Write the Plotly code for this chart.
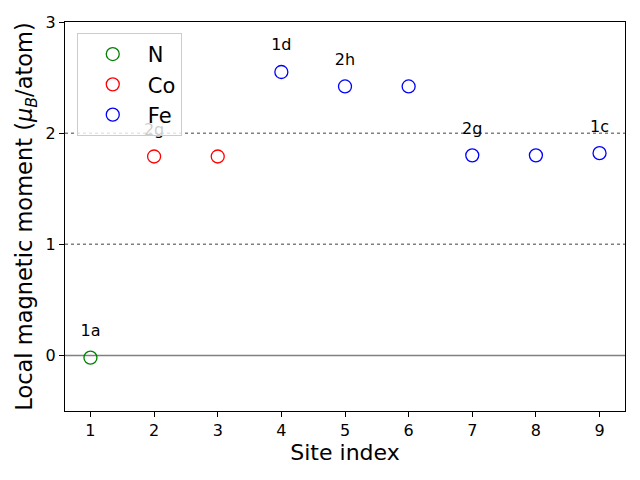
import plotly.graph_objects as go

sites_N = [1]
mom_N = [-0.02]
sites_Co = [2, 3]
mom_Co = [1.79, 1.79]
sites_Fe = [4, 5, 6, 7, 8, 9]
mom_Fe = [2.55, 2.42, 2.42, 1.80, 1.80, 1.82]

label_x = [1, 2, 4, 5, 7, 9]
label_y = [-0.02, 1.79, 2.55, 2.42, 1.80, 1.82]
label_text = ["1a", "2g", "1d", "2h", "2g", "1c"]

xticks = [1, 2, 3, 4, 5, 6, 7, 8, 9]
yticks = [0, 1, 2, 3]

FONT = "DejaVu Sans"
fig = go.Figure()

# reference lines
fig.add_hline(y=0, line=dict(color="gray", width=1.5), layer="below")
for yv in [1, 2]:
    fig.add_hline(y=yv, line=dict(color="gray", width=1.5, dash="dot"), layer="below")

# site labels as text trace (below legend)
fig.add_trace(go.Scatter(
    x=label_x, y=[v + 0.23 for v in label_y], mode="text", text=label_text,
    textposition="middle center", textfont=dict(family=FONT, size=16, color="black"),
    showlegend=False, hoverinfo="skip", cliponaxis=False))

for name, xs, ys, col in [("N", sites_N, mom_N, "green"),
                          ("Co", sites_Co, mom_Co, "red"),
                          ("Fe", sites_Fe, mom_Fe, "blue")]:
    fig.add_trace(go.Scatter(
        x=xs, y=ys, mode="markers", name=name,
        marker=dict(symbol="circle-open", size=13, color=col, line=dict(width=1.3, color=col))))

fig.update_layout(
    width=640, height=480,
    margin=dict(l=65, r=15, t=22, b=69),
    paper_bgcolor="white", plot_bgcolor="white",
    font=dict(family=FONT, color="black"),
    showlegend=True,
    legend=dict(x=0.021, y=0.972, xanchor="left", yanchor="top",
                bgcolor="rgba(255,255,255,0.8)", bordercolor="#cccccc", borderwidth=1,
                font=dict(family=FONT, size=21), tracegroupgap=0, itemwidth=60),
)
fig.update_xaxes(range=[0.6, 9.4], tickvals=xticks, ticks="outside", ticklen=5, tickcolor="black",
                 showline=True, linecolor="black", linewidth=1.2, mirror=True, showgrid=False,
                 zeroline=False, tickfont=dict(family=FONT, size=16),
                 title=dict(text="Site index", font=dict(family=FONT, size=22), standoff=5))
fig.update_yaxes(range=[-0.5, 3], tickvals=yticks, ticks="outside", ticklen=5, tickcolor="black",
                 showline=True, linecolor="black", linewidth=1.2, mirror=True, showgrid=False,
                 zeroline=False, tickfont=dict(family=FONT, size=16),
                 title=dict(text="Local magnetic moment (<i>μ</i><sub><i>B</i></sub>/atom)",
                            font=dict(family=FONT, size=22.5), standoff=6))

fig.write_html("out.html")
